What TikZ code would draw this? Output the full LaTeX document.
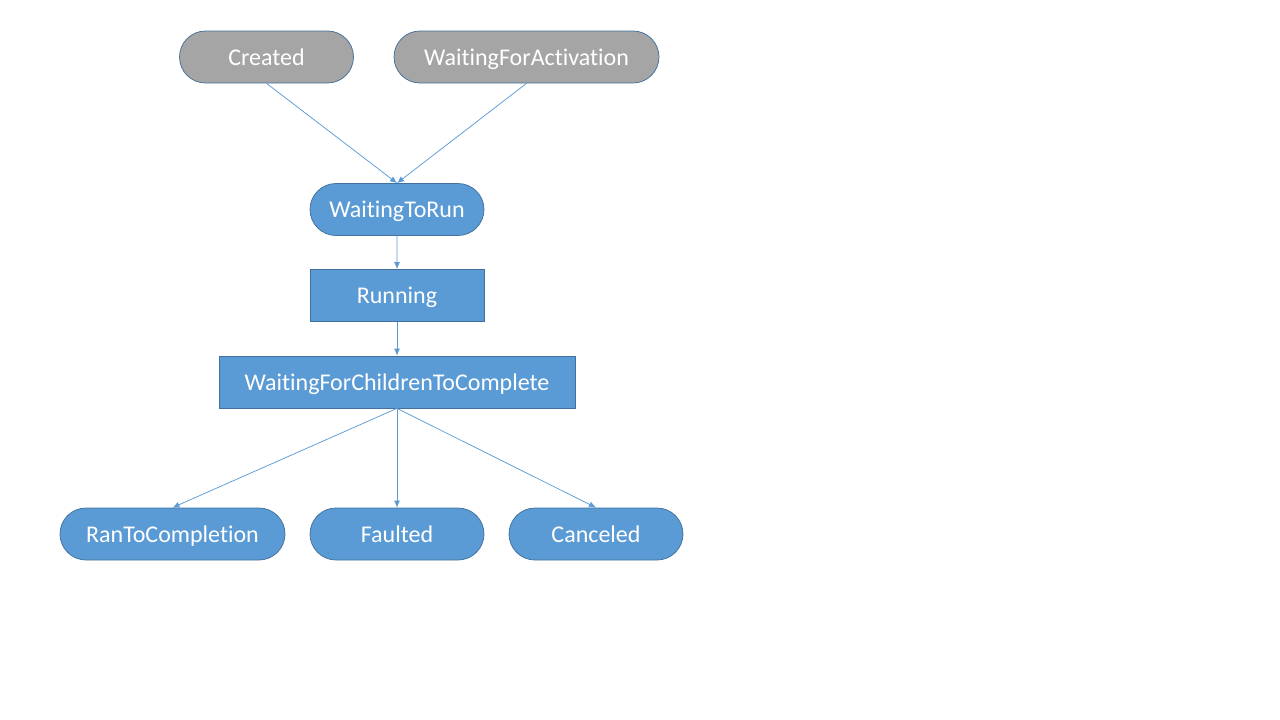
\documentclass[tikz,border=0pt]{standalone}
\usepackage{fontspec}
\setmainfont{Carlito}[RawFeature={-liga;-clig;-calt}]
\usepackage{tikz}
\usetikzlibrary{arrows.meta,positioning,shapes}

\definecolor{stateblue}{HTML}{5B9BD5}
\definecolor{stateedge}{HTML}{41719C}
\definecolor{stategray}{HTML}{A5A5A5}

\begin{document}
\begin{tikzpicture}[x=1pt,y=-1pt,
            state/.style={draw=stateedge,fill=stateblue,text=white,font=\fontsize{24}{28}\selectfont,
                          minimum height=52pt,inner sep=0pt,text height=16pt,text depth=0pt,
                          align=center,line width=.75pt},
            pill/.style={state,rounded rectangle,minimum width=174pt},
            box/.style={state,rectangle,minimum width=174pt},
            start/.style={pill,fill=stategray},
            every path/.style={line width=.75pt},
            flow/.style={draw=stateblue,-{Latex[length=7pt,width=6pt]}}
          ]
          \useasboundingbox (0,0) rectangle (1280,720);

          %start states
          \node[start] (created) at (266.5,57) {Created};
          \node[start,minimum width=265pt] (activation) at (526.5,57) {WaitingForActivation};

          %main chain
          \node[pill] (torun) at (397,209.5) {WaitingToRun};
          \node[box] (running) at (397,295.5) {Running};
          \node[box,minimum width=356pt] (children) at (397,382) {WaitingForChildrenToComplete};

          %final states
          \node[pill,minimum width=225pt] (ran) at (172.5,534) {RanToCompletion};
          \node[pill] (faulted) at (397,534) {Faulted};
          \node[pill] (canceled) at (596,534) {Canceled};

          \path
          (created.south) edge[flow] (torun.north)
          (activation.south) edge[flow] (torun.north)
          (torun) edge[flow] (running)
          (running) edge[flow] (children)
          (children.south) edge[flow] (ran.north)
          (children.south) edge[flow] (faulted.north)
          (children.south) edge[flow] (canceled.north)
          ;

      \end{tikzpicture}
\end{document}
